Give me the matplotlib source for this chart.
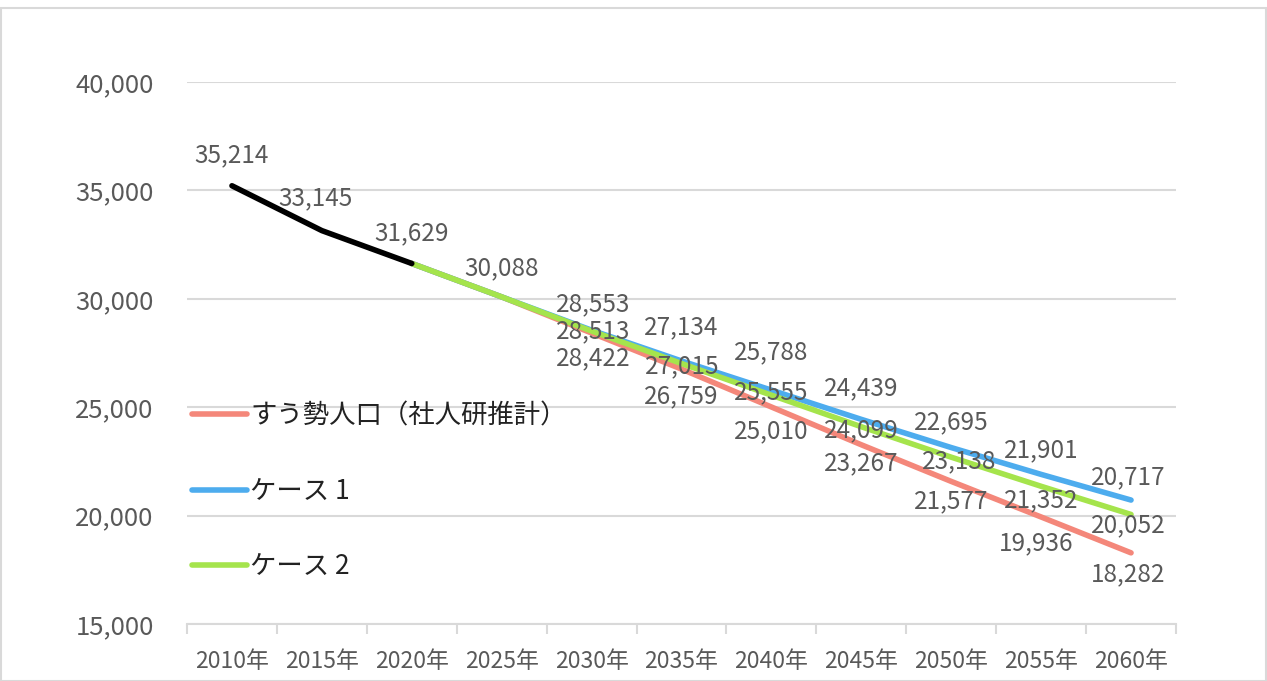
import numpy as np
import matplotlib
matplotlib.use('Agg')
from matplotlib import pyplot as plt

plt.rcParams['font.family'] = ['Noto Sans CJK JP', 'DejaVu Sans']

years = ['2010年', '2015年', '2020年', '2025年', '2030年', '2035年',
         '2040年', '2045年', '2050年', '2055年', '2060年']
actual = [35214, 33145, 31629]
trend = [31629, 30088, 28422, 26759, 25010, 23267, 21577, 19936, 18282]   # すう勢人口
case1 = [31629, 30088, 28553, 27134, 25788, 24439, 23138, 21901, 20717]
case2 = [31629, 30088, 28513, 27015, 25555, 24099, 22695, 21352, 20052]
names = ['すう勢人口（社人研推計）', 'ケース 1', 'ケース 2']

# ラベル位置のずれ (ピクセル)
off_actual = [(0, 30), (-6, 32), (0, 30)]
off_trend = [None, (0, 29), (2, -25), (0, -27), (0, -24), (0, -18), (0, -20), (-5, -26), (-3, -21)]
off_case1 = [None, None, (2, 26), (0, 34), (0, 38), (0, 31), (8, -14), (0, 24), (-3, 23)]
off_case2 = [None, None, (2, 0), (1, -3), (0, 3), (0, -4), (0, 35), (0, -14), (-3, -11)]

W, H = 1267, 681
fig = plt.figure(figsize=(W / 100, H / 100), dpi=100)
ax = fig.add_axes([187 / W, (H - 624) / H, (1176 - 187) / W, (624 - 82) / H])

txt = '#595959'
x0 = np.arange(len(actual))
x1 = np.arange(2, len(years))

ax.plot(x0, actual, color='black', lw=4, solid_capstyle='round', zorder=5)
ax.plot(x1, trend, color='#F4877A', lw=4, solid_capstyle='round', label=names[0], zorder=3)
ax.plot(x1, case1, color='#4DACEE', lw=4, solid_capstyle='round', label=names[1], zorder=3)
ax.plot(x1, case2, color='#A5E44C', lw=4, solid_capstyle='round', label=names[2], zorder=4)


def put_labels(xs, vals, offs):
    for x, v, o in zip(xs, vals, offs):
        if o is None:
            continue
        ax.annotate(f'{v:,}', (x, v), xytext=o, textcoords='offset pixels',
                    ha='center', va='center', fontsize=17.5, color=txt, zorder=6)


put_labels(x0, actual, off_actual)
put_labels(x1, trend, off_trend)
put_labels(x1, case1, off_case1)
put_labels(x1, case2, off_case2)

ax.set_xlim(-0.5, len(years) - 0.5)
ax.set_ylim(15000, 40000)
ax.set_yticks(range(15000, 40001, 5000))
ax.set_yticklabels([f'{v:,}' for v in range(15000, 40001, 5000)])
ax.set_xticks(np.arange(len(years)))
ax.set_xticklabels(years)
ax.set_xticks(np.arange(-0.5, len(years)), minor=True)
ax.grid(axis='y', color='#D9D9D9', lw=1.5)
ax.set_axisbelow(True)
for s in ['top', 'right', 'left']:
    ax.spines[s].set_visible(False)
ax.spines['bottom'].set_color('#D9D9D9')
ax.spines['bottom'].set_linewidth(1.5)
ax.tick_params(axis='y', length=0, pad=24, labelsize=18.5, labelcolor=txt)
ax.tick_params(axis='x', which='major', length=0, pad=19, labelsize=16.5, labelcolor=txt)
ax.tick_params(axis='x', which='minor', length=7, width=1.5, color='#D9D9D9')

leg = ax.legend(loc='upper left', bbox_to_anchor=(-0.006, 0.428), frameon=False,
                fontsize=19, handlelength=2.1, handletextpad=0.12,
                labelspacing=1.83, borderaxespad=0)
for line in leg.get_lines():
    line.set_linewidth(4)
    line.set_solid_capstyle('round')
for t in leg.get_texts():
    t.set_color('#222222')

fig.patches.append(plt.Rectangle((0.5 / W, 0), 1 - 1.5 / W, 1 - 8 / H, transform=fig.transFigure,
                                 fill=False, edgecolor='#D9D9D9', lw=1.5))

fig.savefig('out.png', dpi=100)
